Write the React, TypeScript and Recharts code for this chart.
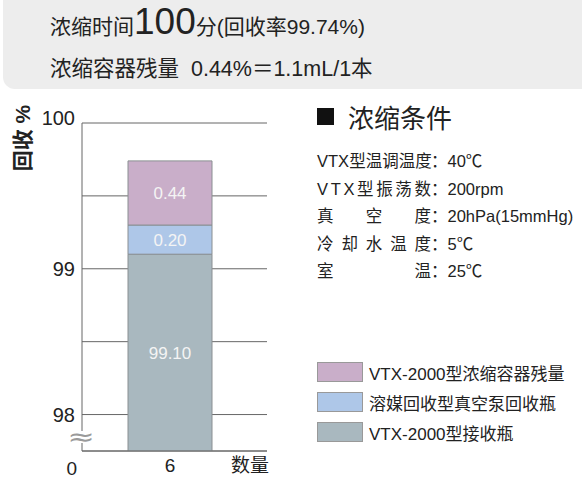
import { Bar, BarChart, CartesianGrid, Label, LabelList, Legend, XAxis, YAxis } from "recharts"

// 数据
const categories = ["6"]
const receiverBottle = [99.1]
const solventBottle = [0.2]
const vesselResidue = [0.44]
const seriesNames = ["VTX-2000型接收瓶", "溶媒回收型真空泵回收瓶", "VTX-2000型浓缩容器残量"]
const legendOrder = ["VTX-2000型浓缩容器残量", "溶媒回收型真空泵回收瓶", "VTX-2000型接收瓶"]
const yTicks = [97.75, 98, 98.5, 99, 99.5, 100]
const yTickLabels: Record<string, string> = { "97.75": "0", "98": "98", "99": "99", "100": "100" }
const conditionLabels = ["VTX型温调温度", "VTX型振荡数", "真空度", "冷却水温度", "室温"]
const conditionValues = ["40℃", "200rpm", "20hPa(15mmHg)", "5℃", "25℃"]

const COLORS = ["#a9b8bf", "#aec7e8", "#c9aec9"]
const FONT = "'Liberation Sans', 'Noto Sans CJK SC', sans-serif"
const TEXT = "#222"

const data = categories.map((c, i) => ({
    name: c,
    receiver: receiverBottle[i],
    solvent: solventBottle[i],
    residue: vesselResidue[i],
}))

const YTick = ({ x, y, payload }: any) => {
    const label = yTickLabels[String(payload.value)]
    if (!label) return null
    if (label === "0") {
        return (
            <g>
                <rect x={x + 4} y={y - 20} width={8} height={12} fill="#fff" />
                <text x={x + 6} y={y - 14} textAnchor="middle" dominantBaseline="central" fontSize={30} fill="#9a9a9a" fontFamily="'DejaVu Sans', sans-serif" transform={`translate(${x + 6} ${y - 14}) scale(1.1 0.8) translate(${-(x + 6)} ${-(y - 14)})`}>≈</text>
                <text x={x + 2} y={y + 17} textAnchor="end" dominantBaseline="central" fontSize={19} fill={TEXT} fontFamily={FONT}>0</text>
            </g>
        )
    }
    return (
        <text x={x} y={label === "100" ? y - 5 : y} textAnchor="end" dominantBaseline="central" fontSize={20} fill={TEXT} fontFamily={FONT}>{label}</text>
    )
}

const XTick = ({ x, payload }: any) => (
    <text x={x} y={465} textAnchor="middle" dominantBaseline="central" fontSize={19} fill={TEXT} fontFamily={FONT}>{payload.value}</text>
)

const renderLegend = ({ payload }: any) => {
    const items = [...(payload || [])].sort((a: any, b: any) => legendOrder.indexOf(a.value) - legendOrder.indexOf(b.value))
    return (
        <div style={{ fontFamily: FONT }}>
            {items.map((item: any) => (
                <div key={item.value} style={{ display: "flex", alignItems: "center", height: 30 }}>
                    <span style={{ width: 44, height: 18, background: item.color, border: "1px solid #999", marginRight: 6 }} />
                    <span style={{ fontSize: 17, color: TEXT, whiteSpace: "nowrap" }}>{item.value}</span>
                </div>
            ))}
        </div>
    )
}

export default function App() {
    return (
        <div style={{ position: "absolute", left: 0, top: 0, width: 582, height: 479, background: "#fff", fontFamily: FONT, color: TEXT }}>
            <div style={{ position: "absolute", left: 3, top: 0, width: 579, height: 89, background: "#ededed", borderBottomLeftRadius: 12 }}>
                <div style={{ position: "absolute", left: 47, top: 2, fontSize: 21, whiteSpace: "nowrap", lineHeight: "40px" }}>
                    浓缩时间<span style={{ fontSize: 37 }}>100</span>分(回收率99.74%)
                </div>
                <div style={{ position: "absolute", left: 47, top: 54, fontSize: 21.5, whiteSpace: "nowrap", lineHeight: "30px" }}>
                    浓缩容器残量&nbsp;&nbsp;0.44%＝1.1mL/1本
                </div>
            </div>

            <div style={{ position: "absolute", left: 317, top: 98, display: "flex", alignItems: "center", whiteSpace: "nowrap" }}>
                <span style={{ display: "inline-block", width: 17, height: 17, background: "#111", marginRight: 14 }} />
                <span style={{ fontSize: 26 }}>浓缩条件</span>
            </div>
            <div style={{ position: "absolute", left: 317, top: 148 }}>
                {conditionLabels.map((lab, i) => (
                    <div key={lab} style={{ display: "flex", alignItems: "baseline", height: 27.5, fontSize: 16.5, whiteSpace: "nowrap" }}>
                        <span style={{ display: "flex", alignItems: "baseline", justifyContent: "space-between", width: 114 }}>
                            {Array.from(lab).map((ch, j) => <span key={j}>{ch}</span>)}
                        </span>
                        <span>：</span>
                        <span>{conditionValues[i]}</span>
                    </div>
                ))}
            </div>

            <BarChart
                width={582}
                height={479}
                data={data}
                margin={{ top: 123, right: 315, bottom: 8, left: 32 }}
                barSize={84}
            >
                <CartesianGrid vertical={false} stroke="#666" strokeWidth={1} />
                <XAxis
                    dataKey="name"
                    height={20}
                    padding={{ left: 0, right: 9 }}
                    axisLine={{ stroke: "#666" }}
                    tickLine={false}
                    tick={<XTick />}
                >
                    <Label
                        content={() => (
                            <text x={250} y={465} textAnchor="middle" dominantBaseline="central" fontSize={19} fill={TEXT} fontFamily={FONT}>数量</text>
                        )}
                    />
                </XAxis>
                <YAxis
                    type="number"
                    width={50}
                    domain={[97.75, 100]}
                    allowDataOverflow={true}
                    ticks={yTicks}
                    interval={0}
                    tickSize={0}
                    tickMargin={7}
                    tickLine={false}
                    axisLine={{ stroke: "#666" }}
                    tick={<YTick />}
                >
                    <Label
                        content={() => (
                            <text x={22} y={138} transform="rotate(-90 22 138)" textAnchor="middle" dominantBaseline="central" fontSize={21} fontWeight="bold" fill={TEXT} fontFamily={FONT}>回收 %</text>
                        )}
                    />
                </YAxis>
                <Legend
                    layout="vertical"
                    align="center"
                    verticalAlign="middle"
                    content={renderLegend}
                    wrapperStyle={{ position: "absolute", left: 317, top: 357, width: 265 }}
                />
                <Bar dataKey="receiver" name={seriesNames[0]} stackId="a" fill={COLORS[0]} stroke="#8a8f92" strokeWidth={1} isAnimationActive={false}>
                    <LabelList dataKey="receiver" position="center" fill="#f4f4f4" fontSize={17} fontFamily={FONT} formatter={(v: any) => Number(v).toFixed(2)} />
                </Bar>
                <Bar dataKey="solvent" name={seriesNames[1]} stackId="a" fill={COLORS[1]} stroke="#8a8f92" strokeWidth={1} isAnimationActive={false}>
                    <LabelList dataKey="solvent" position="center" fill="#f4f4f4" fontSize={17} fontFamily={FONT} formatter={(v: any) => Number(v).toFixed(2)} />
                </Bar>
                <Bar dataKey="residue" name={seriesNames[2]} stackId="a" fill={COLORS[2]} stroke="#8a8f92" strokeWidth={1} isAnimationActive={false}>
                    <LabelList dataKey="residue" position="center" fill="#f4f4f4" fontSize={17} fontFamily={FONT} formatter={(v: any) => Number(v).toFixed(2)} />
                </Bar>
            </BarChart>
        </div>
    )
}
